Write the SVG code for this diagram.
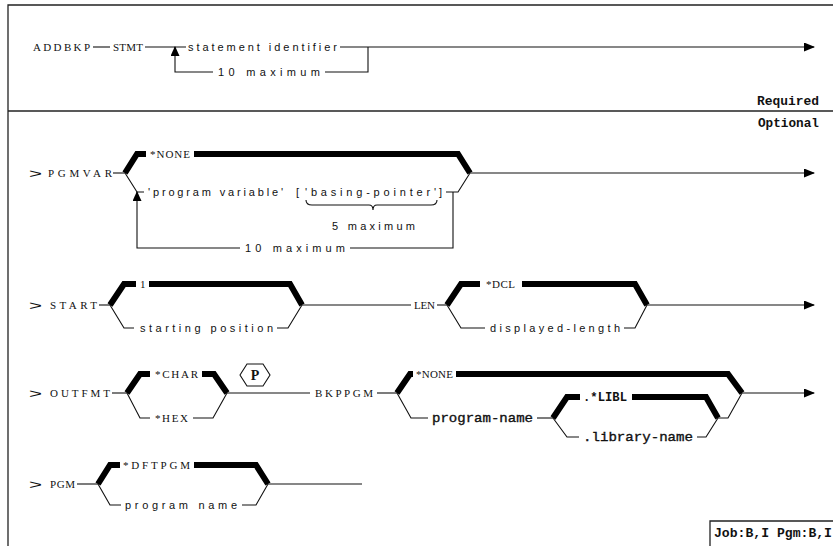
<svg xmlns="http://www.w3.org/2000/svg" width="833" height="546" viewBox="0 0 833 546">
<style>
.kw{font-family:"Liberation Serif",serif;font-size:11px;fill:#111}
.pm{font-family:"Liberation Sans",sans-serif;font-size:11px;fill:#111}
.ty{font-family:"Liberation Mono",monospace;font-size:13px;fill:#111;stroke:#111;stroke-width:0.35}
.tyb{font-family:"Liberation Mono",monospace;font-size:13px;font-weight:bold;fill:#111}
.bd{font-family:"Liberation Mono",monospace;font-size:12.5px;font-weight:bold;fill:#111}
.gt{font-family:"Liberation Sans",sans-serif;font-size:13px;fill:#111}
.thin{stroke:#111;stroke-width:1.1;fill:none}
.thick{stroke:#000;stroke-width:6;fill:none;stroke-linejoin:miter;stroke-linecap:butt}
.arr{stroke:#111;stroke-width:1.1;fill:none;marker-end:url(#ah)}
.up{stroke:#111;stroke-width:1.1;fill:none;marker-end:url(#uh)}
.frame{stroke:#222;stroke-width:1.3;fill:none}
</style>
<defs>
<marker id="ah" markerUnits="userSpaceOnUse" markerWidth="11" markerHeight="9" refX="10" refY="4.5" orient="auto"><path d="M0,0 L11,4.5 L0,9 z" fill="#000"/></marker>
<marker id="uh" markerUnits="userSpaceOnUse" markerWidth="10" markerHeight="9" refX="9" refY="4.5" orient="auto"><path d="M0,0 L10,4.5 L0,9 z" fill="#000"/></marker>
</defs>
<rect width="833" height="546" fill="#fff"/>
<g id="frame">
<path class="frame" d="M8,546 V5 H833"/>
<path class="frame" d="M8,111 H833"/>
<path class="frame" d="M710,546 V521 H833"/>
</g>
<g id="connectors">
<path class="thin" d="M93,47 H110"/>
<path class="thin" d="M145,47 H186"/>
<path class="arr" d="M340,47 H814"/>
<path class="thin" d="M368,47 V72 H325"/>
<path class="up" d="M213,72 H175 V47"/>
<path class="thin" d="M113,173 H125"/>
<path class="thick" d="M125,173 L137,154 H146"/>
<path class="thick" d="M194,154 H458 L470,173"/>
<path class="thin" d="M125,173 L137,192 H144"/>
<path class="thin" d="M446,192 H458 L470,173"/>
<path class="arr" d="M470,173 H814"/>
<path class="up" d="M240,248 H137 V192"/>
<path class="thin" d="M350,248 H453 V192"/>
<path class="thin" d="M306,200 Q306,205 312,205 H369 Q373,205 373,210 Q373,205 377,205 H431 Q437,205 437,200"/>
<path class="thin" d="M99,305 H110"/>
<path class="thick" d="M110,305 L124,284 H136"/>
<path class="thick" d="M149,284 H290 L302,305"/>
<path class="thin" d="M110,305 L124,328 H134"/>
<path class="thin" d="M277,328 H288 L302,305"/>
<path class="thin" d="M302,305 H411"/>
<path class="thin" d="M437,305 H447"/>
<path class="thick" d="M447,305 L461,284 H480"/>
<path class="thick" d="M522,284 H635 L647,305"/>
<path class="thin" d="M447,305 L461,328 H485"/>
<path class="thin" d="M624,328 H635 L647,305"/>
<path class="arr" d="M647,305 H814"/>
<path class="thin" d="M112,393 H127"/>
<path class="thick" d="M127,393 L140,374 H150"/>
<path class="thick" d="M202,374 H214 L227,393"/>
<path class="thin" d="M127,393 L140,418 H150"/>
<path class="thin" d="M193,418 H213 L227,393"/>
<path class="thin" d="M227,393 H310"/>
<path class="thin" d="M377,393 H397"/>
<path class="thick" d="M397,393 L410,374 H413"/>
<path class="thick" d="M456,374 H728 L742,393"/>
<path class="thin" d="M397,393 L411,418 H428"/>
<path class="thin" d="M537,418 H553"/>
<path class="thick" d="M553,418 L567,397 H580"/>
<path class="thick" d="M632,397 H706 L718,418"/>
<path class="thin" d="M553,418 L567,437 H579"/>
<path class="thin" d="M697,437 H706 L718,418"/>
<path class="thin" d="M718,418 H728 L742,393"/>
<path class="arr" d="M742,393 H814"/>
<path class="thin" d="M77,484 H98"/>
<path class="thick" d="M98,484 L110,465 H120"/>
<path class="thick" d="M194,465 H256 L268,484"/>
<path class="thin" d="M98,484 L110,505 H121"/>
<path class="thin" d="M242,505 H256 L268,484"/>
<path class="thin" d="M268,484 H362"/>
</g>
<g id="legend">
<text class="bd" x="757" y="105" textLength="62" lengthAdjust="spacingAndGlyphs">Required</text>
<text class="bd" x="758" y="127" textLength="61" lengthAdjust="spacingAndGlyphs">Optional</text>
<text class="bd" x="714" y="537" textLength="118" lengthAdjust="spacingAndGlyphs">Job:B,I Pgm:B,I</text>
</g>
<g id="row-addbkp">
<text class="kw" x="33" y="51" textLength="57" lengthAdjust="spacing">ADDBKP</text>
<text class="kw" x="113" y="51" textLength="30" lengthAdjust="spacing">STMT</text>
<text class="pm" x="188" y="51" textLength="149" lengthAdjust="spacing">statement identifier</text>
<text class="pm" x="218" y="76" textLength="102" lengthAdjust="spacing">10 maximum</text>
</g>
<g id="row-pgmvar">
<text class="gt" x="29" y="178" textLength="13" lengthAdjust="spacingAndGlyphs">&gt;</text>
<text class="kw" x="48" y="177" textLength="64" lengthAdjust="spacing">PGMVAR</text>
<text class="kw" x="150" y="158" textLength="40" lengthAdjust="spacing">*NONE</text>
<text class="pm" x="148" y="196" textLength="135" lengthAdjust="spacing">'program variable'</text>
<text class="pm" x="296" y="196">[</text>
<text class="pm" x="305" y="196" textLength="131" lengthAdjust="spacing">'basing-pointer'</text>
<text class="pm" x="439" y="196">]</text>
<text class="pm" x="332" y="230" textLength="83" lengthAdjust="spacing">5 maximum</text>
<text class="pm" x="245" y="252" textLength="100" lengthAdjust="spacing">10 maximum</text>
</g>
<g id="row-start">
<text class="gt" x="29" y="310" textLength="13" lengthAdjust="spacingAndGlyphs">&gt;</text>
<text class="kw" x="50" y="309" textLength="47" lengthAdjust="spacing">START</text>
<text class="kw" x="140" y="288">1</text>
<text class="pm" x="140" y="332" textLength="133" lengthAdjust="spacing">starting position</text>
<text class="kw" x="414" y="309" textLength="21" lengthAdjust="spacing">LEN</text>
<text class="kw" x="486" y="288" textLength="29" lengthAdjust="spacing">*DCL</text>
<text class="pm" x="490" y="332" textLength="130" lengthAdjust="spacing">displayed-length</text>
</g>
<g id="row-outfmt">
<text class="gt" x="29" y="398" textLength="13" lengthAdjust="spacingAndGlyphs">&gt;</text>
<text class="kw" x="50" y="397" textLength="60" lengthAdjust="spacing">OUTFMT</text>
<text class="kw" x="155" y="378" textLength="43" lengthAdjust="spacing">*CHAR</text>
<text class="kw" x="155" y="422" textLength="33" lengthAdjust="spacing">*HEX</text>
<g id="p-hex">
<polygon points="240,375 247,364 263,364 270,375 263,386 247,386" fill="none" stroke="#111" stroke-width="1.1"/>
<text x="255" y="380" text-anchor="middle" font-family="Liberation Serif, serif" font-weight="bold" font-size="14" fill="#111">P</text>
</g>
<text class="kw" x="416" y="378" textLength="37" lengthAdjust="spacing">*NONE</text>
<text class="kw" x="315" y="397" textLength="58" lengthAdjust="spacing">BKPPGM</text>
<text class="ty" x="432" y="422" textLength="101" lengthAdjust="spacingAndGlyphs">program-name</text>
<text class="tyb" x="583" y="401" textLength="44" lengthAdjust="spacingAndGlyphs">.*LIBL</text>
<text class="ty" x="583" y="441" textLength="110" lengthAdjust="spacingAndGlyphs">.library-name</text>
</g>
<g id="row-pgm">
<text class="gt" x="29" y="489" textLength="13" lengthAdjust="spacingAndGlyphs">&gt;</text>
<text class="kw" x="50" y="488" textLength="25" lengthAdjust="spacing">PGM</text>
<text class="kw" x="123" y="469" textLength="67" lengthAdjust="spacing">*DFTPGM</text>
<text class="pm" x="125" y="509" textLength="112" lengthAdjust="spacing">program name</text>
</g>
</svg>
